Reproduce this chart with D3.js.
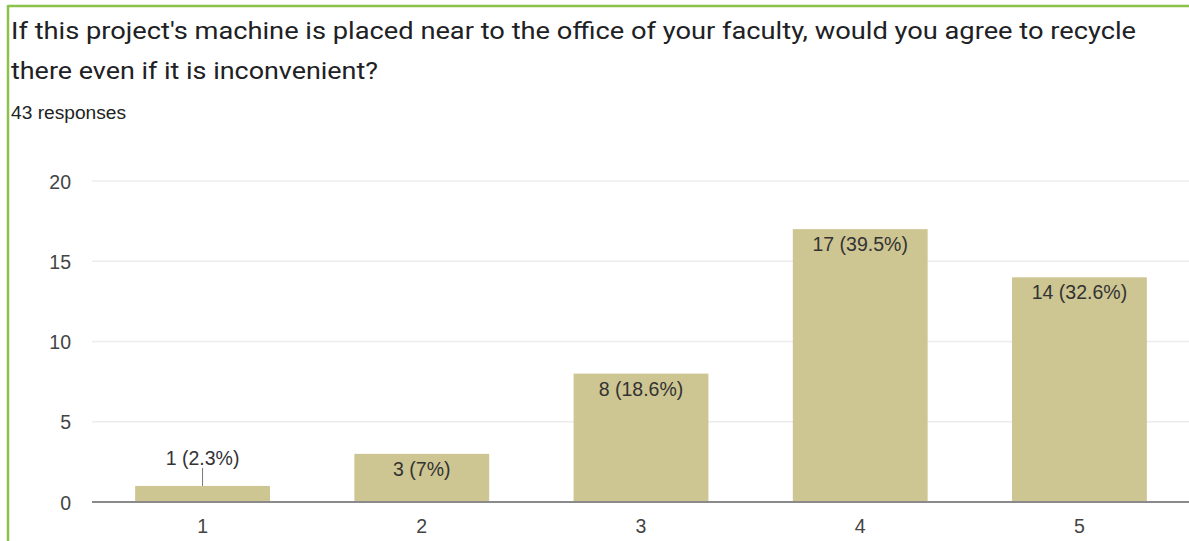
<!DOCTYPE html>
<html><head><meta charset="utf-8">
<script src="https://cdn.jsdelivr.net/npm/d3@7"></script>
<style>
html,body{margin:0;padding:0;background:#fff;}
svg{display:block;}
</style></head>
<body>
<svg id="chart" width="1189" height="541"></svg>
<script>
const categories = ["1","2","3","4","5"];
const counts = [1,3,8,17,14];
const percents = ["2.3%","7%","18.6%","39.5%","32.6%"];
const yTicks = [0,5,10,15,20];
const titleLines = ["If this project's machine is placed near to the office of your faculty, would you agree to recycle","there even if it is inconvenient?"];
const subtitle = "43 responses";

(function(){
const svg = d3.select("#chart");
const W = 1189, H = 541;
svg.append("rect").attr("width",W).attr("height",H).attr("fill","#fff");
svg.append("line").attr("x1",8).attr("x2",W).attr("y1",6).attr("y2",6).attr("stroke","#8bc34a").attr("stroke-width",2.5);
svg.append("line").attr("x1",8).attr("x2",8).attr("y1",5).attr("y2",H).attr("stroke","#8bc34a").attr("stroke-width",2.5);

const tfont = "Roboto, 'Liberation Sans', Arial, sans-serif";
const cfont = "'Liberation Sans', Arial, sans-serif";
const titleW = [1125, 367];
svg.selectAll("text.title").data(titleLines).enter().append("text")
  .attr("x",11).attr("y",(d,i)=>39+i*40)
  .attr("textLength",(d,i)=>titleW[i]).attr("lengthAdjust","spacingAndGlyphs")
  .attr("font-family",tfont).attr("font-size",24).attr("fill","#202124").text(d=>d);
svg.append("text").attr("x",11).attr("y",119).attr("font-family",cfont)
  .attr("textLength",115).attr("lengthAdjust","spacingAndGlyphs")
  .attr("font-size",18).attr("fill","#222").text(subtitle);

const pLeft = 93.5, pRight = 1188.5, pTop = 181, pBottom = 502;
const x = d3.scaleBand().domain(categories).range([pLeft,pRight]).paddingInner(0.385).paddingOuter(0.19);
const y = d3.scaleLinear().domain([0,20]).range([pBottom,pTop]);
const fs = 19.5;

const g = svg.append("g");
g.selectAll("line.grid").data(yTicks.filter(t=>t>0)).enter().append("line")
  .attr("x1",92).attr("x2",W).attr("y1",d=>y(d)).attr("y2",d=>y(d))
  .attr("stroke","#ececec").attr("stroke-width",1.5);
const yAxis = d3.axisLeft(y).tickValues(yTicks).tickSize(0).tickPadding(0);
const ya = g.append("g").attr("transform","translate(71,0)").call(yAxis);
ya.select(".domain").remove();
ya.selectAll("text").attr("font-family",cfont).attr("font-size",fs).attr("fill","#444").attr("dy","0.36em");

g.selectAll("rect.bar").data(counts).enter().append("rect")
  .attr("x",(d,i)=>x(categories[i])).attr("width",x.bandwidth())
  .attr("y",d=>y(d)).attr("height",d=>y(0)-y(d)).attr("fill","#cdc592");

g.append("line").attr("x1",92).attr("x2",W).attr("y1",pBottom).attr("y2",pBottom)
  .attr("stroke","#8a8a8a").attr("stroke-width",2);

const xAxis = d3.axisBottom(x).tickSize(0).tickPadding(0);
const xa = g.append("g").attr("transform",`translate(0,${pBottom+31})`).call(xAxis);
xa.select(".domain").remove();
xa.selectAll("text").attr("font-family",cfont).attr("font-size",fs).attr("fill","#444").attr("dy","0");

counts.forEach((d,i)=>{
  const cx = x(categories[i]) + x.bandwidth()/2;
  const label = `${d} (${percents[i]})`;
  const inside = (y(0)-y(d)) > 25;
  if (inside) {
    g.append("text").attr("x",cx).attr("y",y(d)+22).attr("text-anchor","middle")
      .attr("font-family",cfont).attr("font-size",fs).attr("fill","#333").text(label);
  } else {
    g.append("line").attr("x1",cx).attr("x2",cx).attr("y1",y(d)-18).attr("y2",y(d))
      .attr("stroke","#777").attr("stroke-width",1);
    g.append("text").attr("x",cx).attr("y",y(d)-21).attr("text-anchor","middle")
      .attr("font-family",cfont).attr("font-size",fs).attr("fill","#333").text(label);
  }
});
})();
</script>
</body></html>
